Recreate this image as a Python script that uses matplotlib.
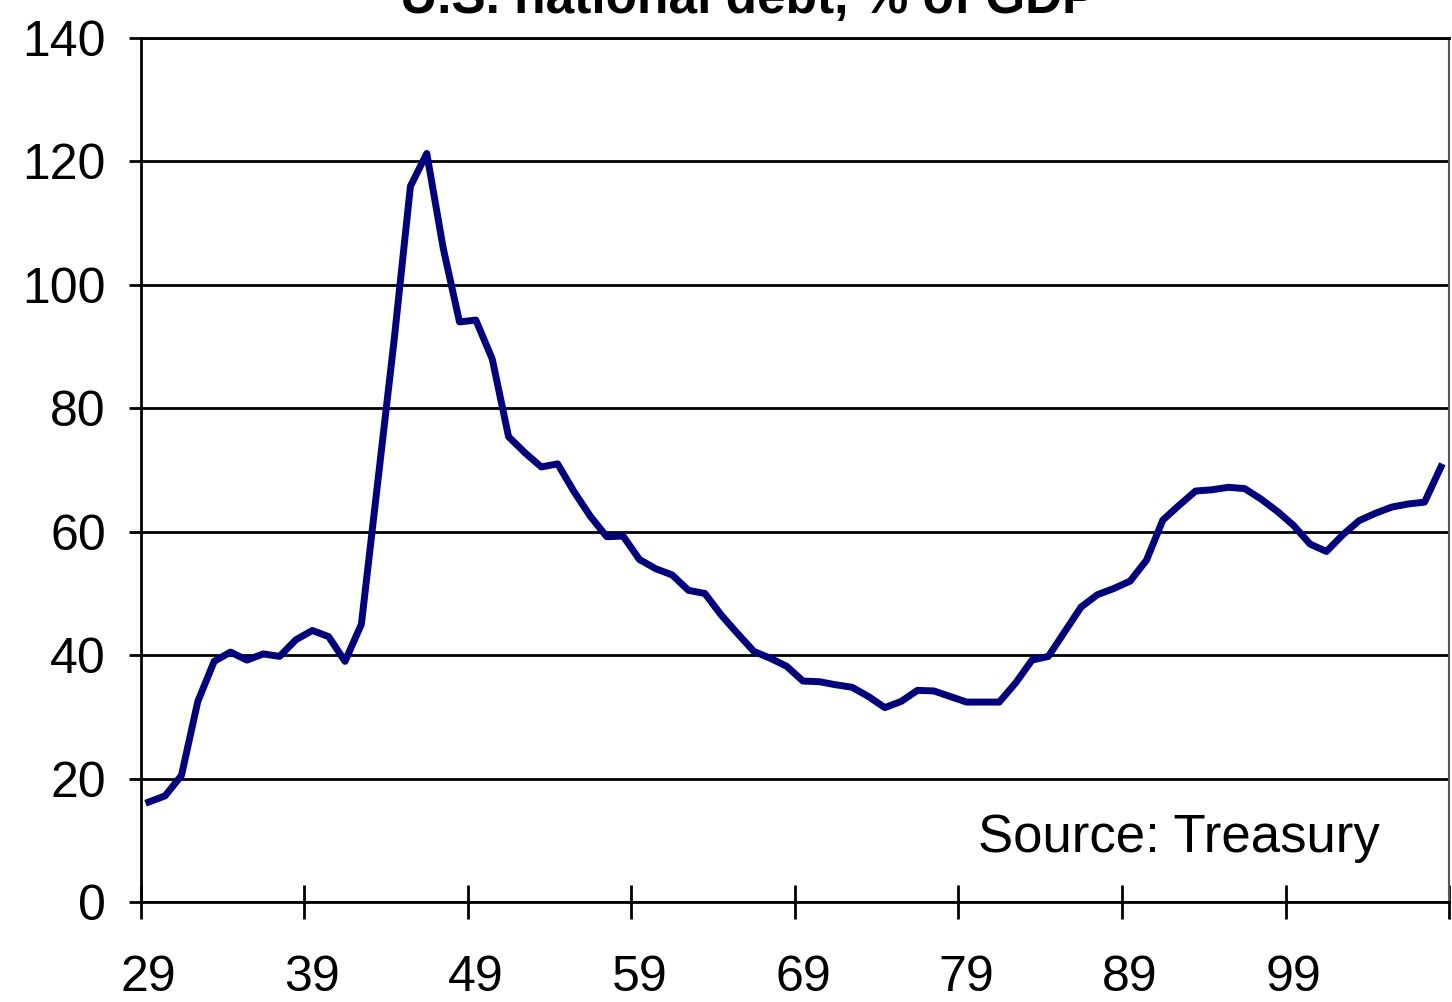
import matplotlib
matplotlib.use("Agg")
import matplotlib.pyplot as plt
import numpy as np

plt.rcParams["font.family"] = ["Liberation Sans", "DejaVu Sans"]

# fiscal years 1929..2008, debt as % of GDP
years = np.arange(1929, 2009)
debt_pct = [
    16.2, 17.2, 20.5, 32.5, 39.0, 40.5, 39.2, 40.2, 39.8, 42.5,
    44.0, 43.0, 39.0, 45.0, 68.0, 91.0, 116.0, 121.3, 106.0, 94.0,
    94.3, 88.0, 75.4, 72.8, 70.5, 71.0, 66.5, 62.5, 59.2, 59.3,
    55.5, 54.0, 53.0, 50.5, 50.0, 46.5, 43.5, 40.6, 39.5, 38.2,
    35.8, 35.7, 35.2, 34.8, 33.3, 31.5, 32.5, 34.3, 34.2, 33.3,
    32.4, 32.4, 32.4, 35.5, 39.2, 39.8, 43.8, 47.8, 49.8, 50.8,
    52.0, 55.4, 61.9, 64.3, 66.6, 66.8, 67.2, 67.0, 65.3, 63.3,
    61.0, 58.0, 56.8, 59.5, 61.8, 63.0, 64.0, 64.5, 64.8, 70.5,
]
label_years = [1929, 1939, 1949, 1959, 1969, 1979, 1989, 1999]
x_labels = ["29", "39", "49", "59", "69", "79", "89", "99"]
y_ticks = [0, 20, 40, 60, 80, 100, 120, 140]

fig = plt.figure(figsize=(14.52, 10.02), dpi=100)
ax = fig.add_axes([0.0968, 0.0998, 0.9012, 0.8622])

ax.plot(years, debt_pct, color="#000080", linewidth=5, solid_joinstyle="round", zorder=3)

ax.set_xlim(1928.5, 2008.5)
ax.set_ylim(0, 140)

# category-style x axis: tick marks between categories, labels centred on the year
ax.set_xticks(np.arange(1928.5, 2009, 10))
ax.set_xticklabels([])
ax.set_xticks(label_years, minor=True)
ax.set_xticklabels(x_labels, minor=True, fontsize=36)
ax.tick_params(axis="x", which="major", direction="inout", length=24, width=2, color="black")
ax.tick_params(axis="x", which="minor", length=0, pad=38)

ax.set_yticks(y_ticks)
ax.set_yticklabels([str(v) for v in y_ticks], fontsize=36)
ax.tick_params(axis="y", direction="out", length=9, width=2, pad=16)

ax.grid(axis="y", color="black", linewidth=2)
ax.set_axisbelow(True)
for side in ["left", "bottom", "top"]:
    ax.spines[side].set_linewidth(2)
    ax.spines[side].set_color("black")
ax.spines["right"].set_linewidth(1.5)
ax.spines["right"].set_color("#555555")

ax.text(0.640, 0.058, "Source: Treasury", transform=ax.transAxes,
        fontsize=38, ha="left", va="baseline")

fig.text(0.515, 0.987, "U.S. national debt, % of GDP", fontsize=37,
         fontweight="bold", ha="center", va="baseline")

fig.savefig("out.png", dpi=100)
